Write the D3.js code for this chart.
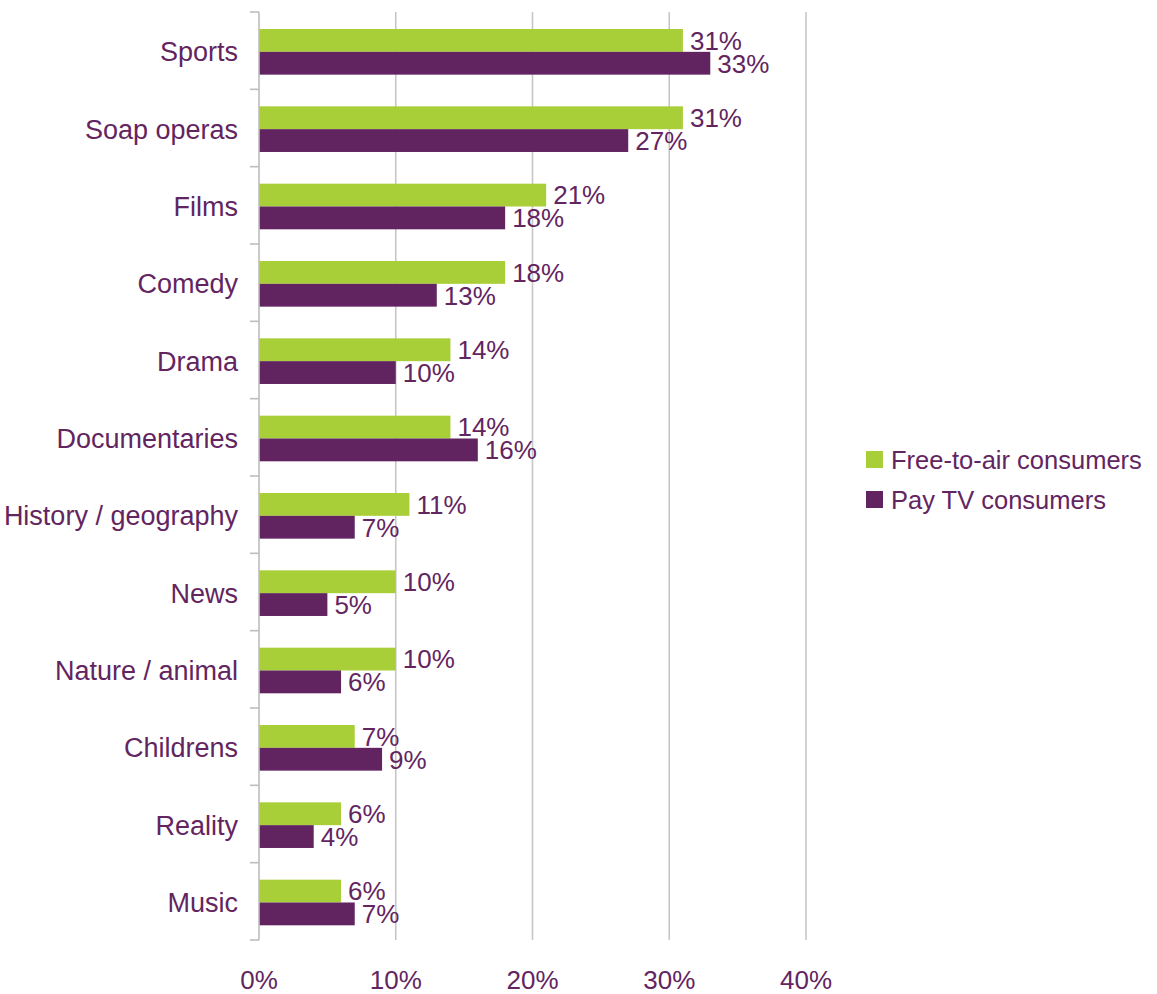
<!DOCTYPE html>
<html><head><meta charset="utf-8">
<script src="https://cdn.jsdelivr.net/npm/d3@7"></script>
<style>
body{margin:0;background:#fff;}
text{font-family:"Liberation Sans",Arial,sans-serif;fill:#62255f;}
</style></head>
<body>
<svg id="chart" width="1157" height="994"></svg>
<script>
const categories = ["Sports","Soap operas","Films","Comedy","Drama","Documentaries","History / geography","News","Nature / animal","Childrens","Reality","Music"];
const seriesNames = ["Free-to-air consumers","Pay TV consumers"];
const freeToAir = [31,31,21,18,14,14,11,10,10,7,6,6];
const payTV = [33,27,18,13,10,16,7,5,6,9,4,7];
const xTicks = [0,10,20,30,40];
const colors = ["#a9cf38","#612461"];

const svg = d3.select("#chart");
const x = d3.scaleLinear().domain([0,40]).range([259,806]);
const y = d3.scaleBand().domain(categories).range([12,940]).padding(0);
const step = y.step();
const inner = d3.scaleBand().domain(seriesNames).range([step*0.22, step*0.81]).padding(0);

// gridlines
svg.append("g").selectAll("line").data(xTicks.filter(d=>d>0)).join("line")
  .attr("x1",d=>x(d)).attr("x2",d=>x(d)).attr("y1",12).attr("y2",940)
  .attr("stroke","#c6c6c6").attr("stroke-width",1.6);

const data = categories.map((c,i)=>({cat:c, vals:[freeToAir[i], payTV[i]]}));

const groups = svg.append("g").selectAll("g").data(data).join("g")
  .attr("transform",d=>`translate(0,${y(d.cat)})`);
groups.selectAll("rect").data(d=>d.vals.map((v,j)=>({v,s:seriesNames[j],j}))).join("rect")
  .attr("x",x(0)).attr("y",d=>inner(d.s)).attr("width",d=>x(d.v)-x(0)).attr("height",inner.bandwidth())
  .attr("fill",d=>colors[d.j]);
groups.selectAll("text").data(d=>d.vals.map((v,j)=>({v,s:seriesNames[j],j}))).join("text")
  .attr("x",d=>x(d.v)+7).attr("y",d=>inner(d.s)+inner.bandwidth()/2)
  .attr("dy","0.36em").attr("font-size",26).text(d=>d.v+"%");

// y axis
const yAxis = svg.append("g");
yAxis.append("line").attr("x1",x(0)).attr("x2",x(0)).attr("y1",12).attr("y2",940)
  .attr("stroke","#bdbdbd").attr("stroke-width",1.6);
const bounds = categories.map(c=>y(c)).concat([y(categories[categories.length-1])+step]);
yAxis.selectAll("line.tick").data(bounds).join("line").attr("class","tick")
  .attr("x1",250).attr("x2",x(0)).attr("y1",d=>d).attr("y2",d=>d)
  .attr("stroke","#bdbdbd").attr("stroke-width",1.6);
yAxis.selectAll("text").data(categories).join("text")
  .attr("x",238).attr("y",d=>y(d)+step/2+1).attr("dy","0.36em")
  .attr("text-anchor","end").attr("font-size",27).text(d=>d);

// x axis labels
svg.append("g").selectAll("text").data(xTicks).join("text")
  .attr("x",d=>x(d)).attr("y",980).attr("dy","0.36em").attr("text-anchor","middle")
  .attr("font-size",26).text(d=>d+"%");

// legend
const leg = svg.append("g").selectAll("g").data(seriesNames).join("g")
  .attr("transform",(d,i)=>`translate(866,${451+i*40})`);
leg.append("rect").attr("width",17).attr("height",17).attr("fill",(d,i)=>colors[i]);
leg.append("text").attr("x",25).attr("y",8.5).attr("dy","0.36em").attr("font-size",25.5).text(d=>d);
</script>
</body></html>
